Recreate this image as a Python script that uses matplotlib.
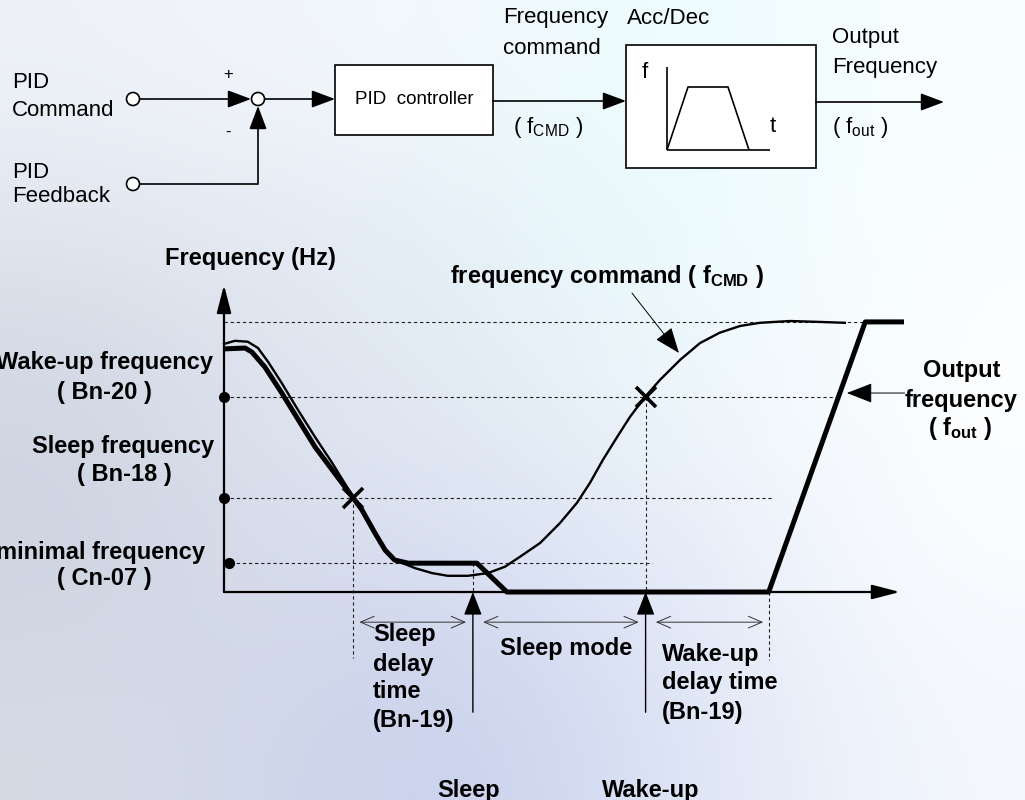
import numpy as np
import matplotlib.pyplot as plt
from matplotlib.patches import Rectangle, Circle
from matplotlib.colors import to_rgb

plt.rcParams['font.family'] = ['Liberation Sans', 'DejaVu Sans']
plt.rcParams['mathtext.fontset'] = 'custom'
plt.rcParams['mathtext.rm'] = 'Liberation Sans'
plt.rcParams['mathtext.bf'] = 'Liberation Sans:bold'
plt.rcParams['mathtext.it'] = 'Liberation Sans:italic'

# frequency levels (Hz)
F_TOP = 60.0
F_WAKE = 43.3
F_SLEEP = 20.9
F_MIN = 6.4

# output frequency (thick line), time in arbitrary units
out_t = [0, 3.1, 4.1, 6.0, 8.5, 13.4, 19.0, 20.3, 22.2, 23.7, 25.1, 27.1, 37.2, 41.6,
         80.1, 94.3, 100]
out_f = [54.0, 54.2, 53.3, 50.0, 44.2, 32.2, 20.9, 18.2, 13.1, 9.3, 7.1, 6.4, 6.4, 0,
         0, 60, 60]

# frequency command (thin line)
cmd_t = [0, 1.6, 3.5, 5.0, 6.5, 8.5, 10.9, 13.4, 15.9, 19.0, 20.7, 22.2, 23.7, 25.1,
         28.1, 30.6, 32.9, 35.9, 38.8, 41.3, 43.5, 46.5, 49.4, 51.9, 53.8, 55.7, 57.8,
         59.7, 61.9, 64.1, 67.1, 70.0, 72.9, 75.9, 78.8, 83.2, 87.6, 91.3]
cmd_f = [55.1, 55.8, 55.6, 54.2, 51.1, 46.4, 40.4, 34.4, 28.7, 21.1, 16.7, 12.7, 9.3, 7.1,
         5.3, 4.2, 3.6, 3.6, 4.2, 5.6, 7.8, 10.9, 15.3, 19.8, 24.2, 29.3, 34.4,
         38.9, 43.3, 47.1, 51.6, 55.3, 57.6, 59.1, 59.8, 60.2, 60.0, 59.8]

# event times
T_SLEEP_CROSS = 19.0
T_SLEEP = 36.6
T_WAKE_CROSS = 62.0
T_WAKE = 80.1

# soft background shading (rows top->bottom, cols left->right)
bg_colors = [
    ['#eef2f8', '#f3f6fb', '#f2f8fc', '#eefcfd', '#f0fdfe', '#f8feff'],
    ['#dfe4ee', '#e4e9f2', '#e3eef6', '#e8f8fb', '#f0fcfe', '#fbfeff'],
    ['#d0d6e2', '#dde3ee', '#e3e9f3', '#e9f3f9', '#f3fafd', '#fdfeff'],
    ['#cdd3e0', '#d6dcea', '#d8def0', '#dfe6f6', '#eef2fb', '#fafcff'],
    ['#d6dbe6', '#d1d8ea', '#c8d0ec', '#d4dcf2', '#e6ecf8', '#f4f7fd'],
]

fig = plt.figure(figsize=(10.25, 8), dpi=100)

# ---- overlay in pixel coordinates for background, block diagram and labels
ax0 = fig.add_axes([0, 0, 1, 1])
ax0.set_xlim(0, 1025)
ax0.set_ylim(800, 0)
ax0.axis('off')
bg = np.array([[to_rgb(c) for c in row] for row in bg_colors])
ax0.imshow(bg, extent=(0, 1025, 800, 0), interpolation='bicubic', aspect='auto', zorder=0)

LW = 1.2
arr = dict(arrowstyle='-|>,head_length=0.8,head_width=0.3', color='k', lw=LW,
           mutation_scale=18, shrinkA=0, shrinkB=0)


def line(xs, ys):
    ax0.plot(xs, ys, color='k', lw=LW, solid_capstyle='butt')


def arrow(x0, y0, x1, y1):
    ax0.annotate('', xy=(x1, y1), xytext=(x0, y0), arrowprops=arr)


# summing junction
for cx, cy in [(133, 99), (133, 184), (258, 99)]:
    ax0.add_patch(Circle((cx, cy), 6.5, fc='white', ec='k', lw=LW, zorder=3))
arrow(140, 99, 251, 99)
line([140, 258], [184, 184])
arrow(258, 184, 258, 106)
arrow(265, 99, 335, 99)
ax0.text(228, 75, '+', ha='center', va='center', fontsize=12)
ax0.text(228, 132, '-', ha='center', va='center', fontsize=12)

# PID controller block
ax0.add_patch(Rectangle((335, 65), 158, 70, fc='white', ec='k', lw=LW))
ax0.text(414, 100, 'PID  controller', ha='center', va='center', fontsize=13.5)
arrow(493, 101, 626, 101)

# Acc/Dec block with small ramp sketch
ax0.add_patch(Rectangle((626, 45), 190, 123, fc='white', ec='k', lw=LW))
ramp_x = [667, 688, 728, 749]
ramp_y = [150, 87, 87, 150]
line([667, 667], [67, 150])
line([667, 770], [150, 150])
line(ramp_x, ramp_y)
ax0.text(645, 72, 'f', ha='center', va='center', fontsize=16)
ax0.text(773, 127, 't', ha='center', va='center', fontsize=16)
arrow(816, 102, 944, 102)

reg = dict(fontsize=16, va='center', ha='left')
ax0.text(12, 83, 'PID', **reg)
ax0.text(12, 111, 'Command', **reg)
ax0.text(12, 173, 'PID', **reg)
ax0.text(12, 196, 'Feedback', **reg)
ax0.text(503, 18, 'Frequency', **reg)
ax0.text(503, 48, 'command', **reg)
ax0.text(513, 128, r'( f$_{\mathrm{CMD}}$ )', **reg)
ax0.text(627, 18, 'Acc/Dec', **reg)
ax0.text(832, 38, 'Output', **reg)
ax0.text(832, 68, 'Frequency', **reg)
ax0.text(832, 128, r'( f$_{\mathrm{out}}$ )', **reg)

# chart labels
bold = dict(fontsize=17, fontweight='bold', va='center')
ax0.text(250, 258, 'Frequency (Hz)', ha='center', **bold)
ax0.text(450, 277, r'frequency command ( f$_{\mathbf{CMD}}$ )', ha='left', **bold)
for txt, x, y in [('Wake-up frequency', 104, 363), ('( Bn-20 )', 104, 392),
                  ('Sleep frequency', 123, 447), ('( Bn-18 )', 124, 475),
                  ('minimal frequency', 100, 552), ('( Cn-07 )', 104, 578),
                  ('Output', 962, 370), ('frequency', 961, 400),
                  (r'( f$_{\mathbf{out}}$ )', 960, 428)]:
    ax0.text(x, y, txt, ha='center', **bold)
for txt, x, y in [('Sleep', 373, 635), ('delay', 373, 665), ('time', 373, 692),
                  ('(Bn-19)', 373, 720), ('Sleep mode', 500, 648),
                  ('Wake-up', 662, 655), ('delay time', 662, 683), ('(Bn-19)', 662, 712),
                  ('Sleep', 437, 790), ('Wake-up', 602, 790)]:
    ax0.text(x, y, txt, ha='left', **bold)

# ---- chart axes in time / frequency units
ax = fig.add_axes([224 / 1025, 208 / 800, 680 / 1025, 307 / 800])
ax.set_xlim(0, 100)
ax.set_ylim(0, 68.2)
ax.patch.set_alpha(0)
ax.axis('off')

dot = dict(color='#222222', lw=0.8, ls=(0, (3, 2.5)), clip_on=False, zorder=1)
for level, t_end in [(F_TOP, 94.0), (F_WAKE, 90.1), (F_SLEEP, 80.7), (F_MIN, 62.9)]:
    ax.plot([0, t_end], [level, level], **dot)
ax.plot([T_SLEEP_CROSS, T_SLEEP_CROSS], [F_SLEEP, -14.7], **dot)
ax.plot([T_SLEEP, T_SLEEP], [F_MIN, 0], **dot)
ax.plot([T_WAKE_CROSS, T_WAKE_CROSS], [F_WAKE, 0], **dot)
ax.plot([T_WAKE, T_WAKE], [0, -15.1], **dot)

ax_arr = dict(arrowstyle='-|>,head_length=0.85,head_width=0.22', color='k', lw=1.6,
              mutation_scale=20, shrinkA=0, shrinkB=0)
ax.annotate('', xy=(99.4, 0), xytext=(0, 0), arrowprops=ax_arr, annotation_clip=False)
ax.annotate('', xy=(0, 68.2), xytext=(0, 0), arrowprops=ax_arr, annotation_clip=False)

ax.plot(cmd_t, cmd_f, color='k', lw=1.7, solid_joinstyle='round', clip_on=False, zorder=3)
ax.plot(out_t, out_f, color='k', lw=3.6, solid_joinstyle='round', solid_capstyle='butt',
        clip_on=False, zorder=4)

ax.plot([T_SLEEP_CROSS, T_WAKE_CROSS], [F_SLEEP, F_WAKE], 'x', color='k', ms=14, mew=2.6,
        clip_on=False, zorder=5)
ax.plot([0, 0, 0.75], [F_WAKE, F_SLEEP, F_MIN], 'o', color='k', ms=7, clip_on=False, zorder=5)

# event arrows below the time axis
ev_arr = dict(arrowstyle='-|>,head_length=0.9,head_width=0.35', color='k', lw=1.0,
              mutation_scale=16, shrinkA=0, shrinkB=0)
for t in [T_SLEEP, T_WAKE_CROSS]:
    ax.annotate('', xy=(t, 0), xytext=(t, -26.7), arrowprops=ev_arr, annotation_clip=False)

# time spans
span_arr = dict(arrowstyle='<->,head_length=0.7,head_width=0.3', color='#333333', lw=0.7,
                mutation_scale=14, shrinkA=0, shrinkB=0)
for t0, t1 in [(19.9, 35.6), (38.1, 61.0), (63.5, 79.3)]:
    ax.annotate('', xy=(t1, -6.7), xytext=(t0, -6.7), arrowprops=span_arr, annotation_clip=False)

# callouts
call_arr = dict(arrowstyle='-|>,head_length=0.9,head_width=0.35', color='k', lw=0.7,
                mutation_scale=18, shrinkA=0, shrinkB=0)
ax.annotate('', xy=(66.9, 53.1), xytext=(60.0, 66.4), arrowprops=call_arr, annotation_clip=False)
ax.annotate('', xy=(91.6, 44.2), xytext=(100.1, 44.2), arrowprops=call_arr, annotation_clip=False)

fig.savefig('out.png', dpi=100)
